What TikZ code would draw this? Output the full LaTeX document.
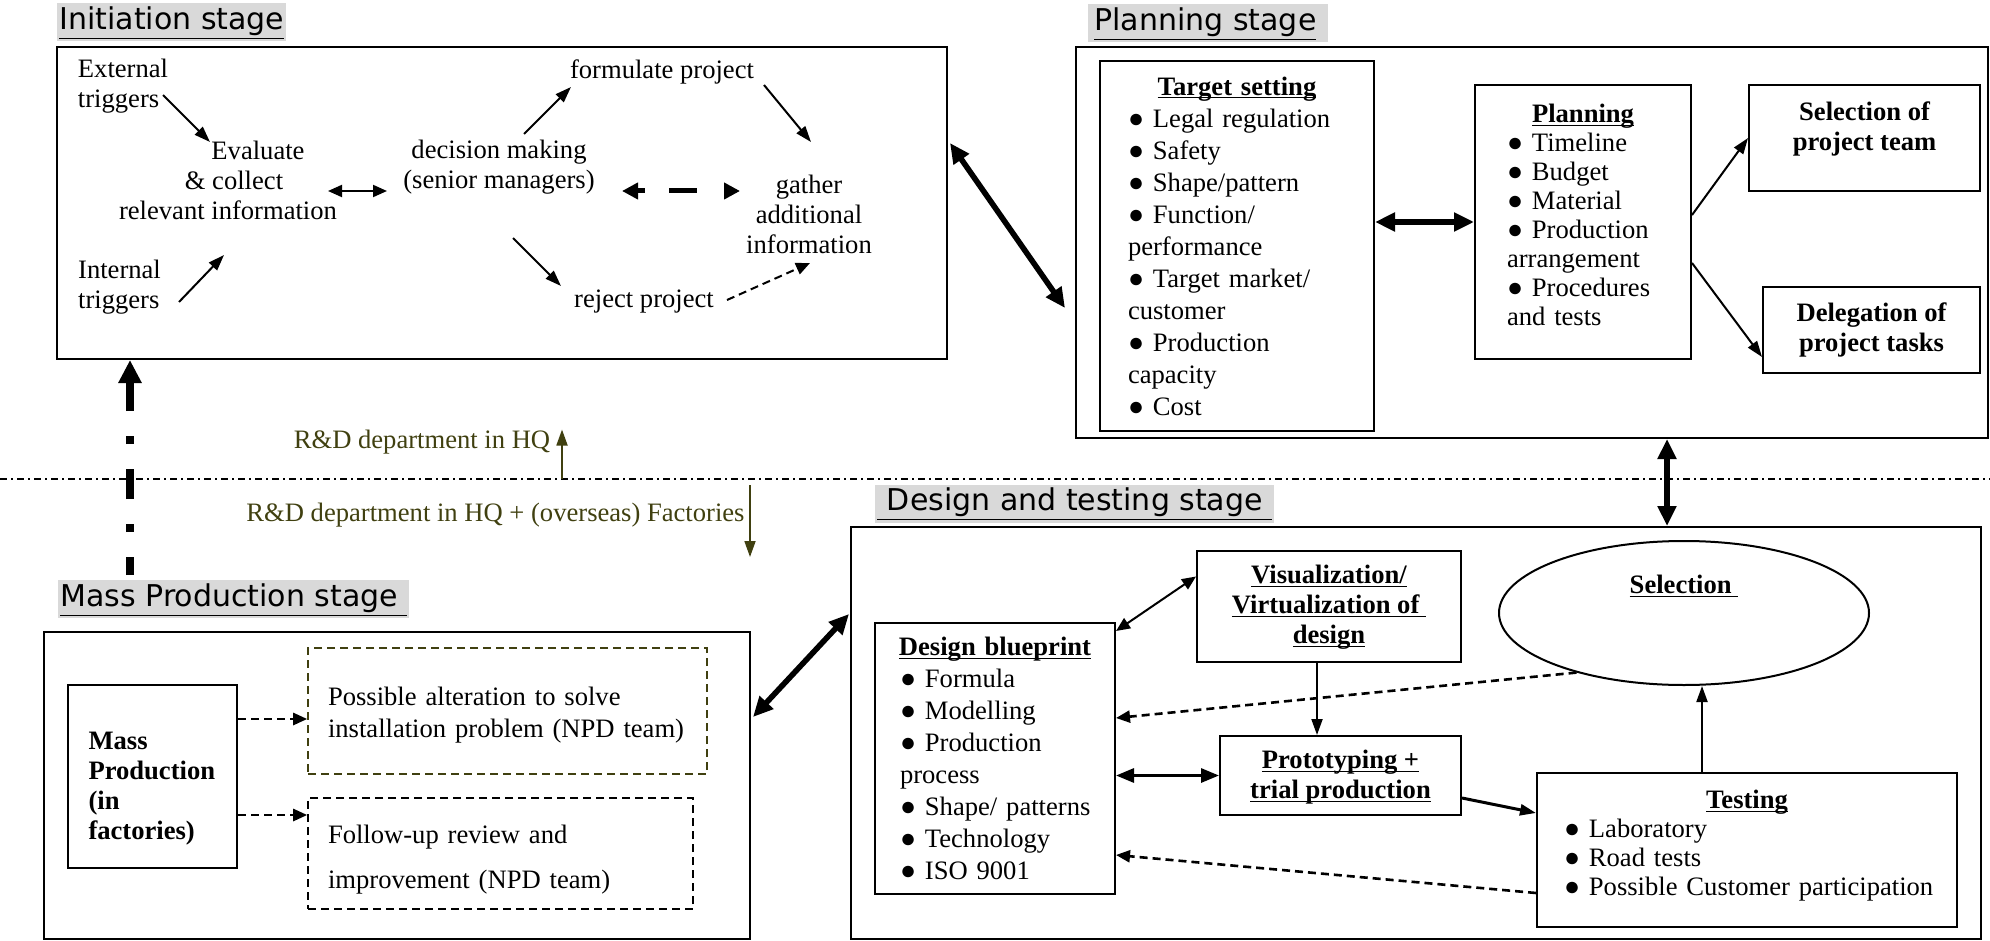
\documentclass[tikz,border=0pt]{standalone}
\usepackage{fontspec}
\setmainfont{Liberation Serif}
\newfontfamily\stagefont{DejaVu Sans}
\usetikzlibrary{arrows.meta,calc,shapes.geometric}
\setlength{\parindent}{0pt}
\hyphenpenalty=10000
\exhyphenpenalty=10000
\definecolor{rdolive}{RGB}{64,64,16}
\newcommand{\bodysize}{\fontsize{13.3}{15}\selectfont}
\newcommand{\listsize}{\fontsize{13.3}{16}\selectfont}
\newcommand{\ulin}[1]{\underline{\raisebox{0pt}[\height][0pt]{#1}}}
\newcommand{\boxhead}[1]{\makebox[\hsize]{\textbf{\ulin{#1}}}}

\tikzset{
  every node/.style={font=\bodysize},
  stagetitle/.style={anchor=west, fill=black!15, inner xsep=1pt, inner ysep=1pt,
    text height=12pt, text depth=5pt, font=\stagefont\fontsize{15}{17}\selectfont},
  stagebox/.style={draw, line width=1pt, inner sep=0pt},
  itembox/.style={draw, line width=1pt, align=left, inner sep=0pt},
  boldbox/.style={draw, line width=1pt, align=center, inner sep=0pt, font=\bodysize\bfseries},
  dashbox/.style={draw, dash pattern=on 4pt off 2.5pt, line width=0.8pt, align=left, inner sep=0pt},
  txt/.style={inner sep=0pt},
  flow/.style={-{Triangle[length=8pt,width=5.5pt]}, line width=1pt},
  flowboth/.style={{Triangle[length=7pt,width=6pt]}-{Triangle[length=7pt,width=6pt]}, line width=1pt},
  midboth/.style={{Triangle[length=9pt,width=7pt]}-{Triangle[length=9pt,width=7pt]}, line width=1.5pt},
  bigflow/.style={{Triangle[length=10pt,width=9pt]}-{Triangle[length=10pt,width=9pt]}, line width=2.8pt},
  bigdash/.style={{Triangle[length=8pt,width=8pt]}-{Triangle[length=8pt,width=8pt]}, line width=2.5pt,
    dash pattern=on 4pt off 12pt on 14pt off 20pt},
  dasharrow/.style={-{Triangle[length=7pt,width=6pt]}, dash pattern=on 4pt off 2.5pt, line width=1.3pt},
  divider/.style={line width=0.9pt, dash pattern=on 3.5pt off 2pt on 1pt off 2pt},
  rdarrow/.style={-{Triangle[length=8pt,width=5.5pt]}, draw=rdolive, line width=0.9pt},
  mpline/.style={-{Triangle[length=11.5pt,width=11pt]}, line width=4pt,
    dash pattern=on 15pt off 12.5pt on 4pt off 12.5pt, dash phase=6pt},
}

\begin{document}
\begin{tikzpicture}[x=0.5pt,y=-0.5pt]
  \useasboundingbox (0,0) rectangle (1990,941);

  % initiation
  \node[stagetitle] (inittitle) at (57,22.5) {\underline{Initiation stage}};
  \node[stagebox, minimum width=445pt, minimum height=156pt] (init) at (502,203) {};
  \node[txt, align=left] (ext) at (123,86) {External\\triggers};
  \node[txt, align=center] (eval) at (228,180) {\hspace*{30pt}Evaluate\\\hspace*{6pt}\& collect\\relevant information};
  \node[txt, align=center] (dec) at (499,167) {decision making\\(senior managers)};
  \node[txt] (form) at (662,72) {formulate project};
  \node[txt, align=center] (gath) at (809,214) {gather\\additional\\information};
  \node[txt] (rej) at (644,302) {reject project};
  \node[txt, align=left] (int) at (119.5,287.5) {Internal\\triggers};

  \draw[flow] ($(ext)+(40,9)$) -- ($(eval)+(-18,-38)$);
  \draw[flow] ($(int)+(59.5,14.5)$) -- ($(eval)+(-4,75)$);
  \draw[flowboth] ($(eval)+(100,11)$) -- ($(dec)+(-112,24)$);
  \draw[flow] ($(dec)+(25,-33)$) -- ($(form)+(-91,15)$);
  \draw[flow] ($(form)+(102,13)$) -- ($(gath)+(2,-72)$);
  \draw[bigdash] ($(dec)+(123,24)$) -- ($(gath)+(-69,-23)$);
  \draw[flow] ($(dec)+(14,71)$) -- ($(rej)+(-83,-16)$);
  \draw[dasharrow, line width=1pt] ($(rej)+(83,-2)$) -- ($(gath)+(1,49)$);

  % planning
  \node[stagetitle] (plantitle) at (1088,23.5) {\hspace*{2pt}\underline{Planning stage}\hspace*{5pt}};
  \node[stagebox, minimum width=456pt, minimum height=195.5pt] (planbox) at (1532,242.5) {};
  \node[itembox, text width=109pt, minimum width=137pt, minimum height=185pt, font=\listsize] (target) at (1237,246)
    {\boxhead{Target setting}\\● Legal regulation\\● Safety\\● Shape/pattern\\● Function/\\performance\\● Target market/\\customer\\● Production\\capacity\\● Cost};
  \node[itembox, text width=76pt, minimum width=108pt, minimum height=137pt, font=\fontsize{13.3}{14.5}\selectfont] (plan) at (1583,222)
    {\boxhead{Planning}\\● Timeline\\● Budget\\● Material\\● Production\\arrangement\\● Procedures\\and tests\\[-6.9pt]\mbox{}};
  \node[boldbox, minimum width=115.5pt, minimum height=53pt] (team) at (1864.5,138) {Selection of\\project team\\[-3pt]\mbox{}};
  \node[boldbox, minimum width=108.5pt, minimum height=43pt] (tasks) at (1871.5,330) {Delegation of\\project tasks};

  \draw[bigflow] ($(init)+(448,-60)$) -- ($(planbox)+(-467,65.5)$);
  \draw[bigflow] (target.east |- plan.west) -- (plan.west);
  \draw[flow] ($(plan.east)+(0,-7)$) -- (team.west);
  \draw[flow] ($(plan.east)+(0,41)$) -- ($(tasks.west)+(0,27)$);

  % HQ / factories divide
  \coordinate (divl) at (0,479);
  \coordinate (divr) at (1990,479);
  \draw[divider] (divl) -- (divr);
  \node[txt, text=rdolive] (hq) at (422,442) {R\&D department in HQ};
  \node[txt, text=rdolive] (fac) at (495.5,515) {R\&D department in HQ + (overseas) Factories};
  \coordinate (hqup) at (562,479);
  \draw[rdarrow] (hqup) -- (hqup |- hq.north);
  \coordinate (facdn) at (750,485);
  \coordinate (facend) at (750,557);
  \draw[rdarrow] (facdn) -- (facend);

  % mass production
  \node[stagetitle] (masstitle) at (58,599) {\underline{Mass Production stage\ }};
  \node[stagebox, minimum width=353pt, minimum height=153.5pt] (massbox) at (397,785.5) {};
  \node[itembox, text width=64pt, minimum width=84.5pt, minimum height=91.5pt, font=\bodysize\bfseries] (mp) at (152.5,776.5)
    {\mbox{}\\[5.4pt]Mass\\Production\\(in\\factories)};
  \node[dashbox, draw=rdolive, text width=179.5pt, minimum width=199.5pt, minimum height=63pt, font=\fontsize{13.3}{15.8}\selectfont] (alt) at (507.5,711)
    {\mbox{}\\[-2.4pt]Possible alteration to solve\\installation problem (NPD team)};
  \node[dashbox, text width=172.5pt, minimum width=192.5pt, minimum height=55.5pt] (rev) at (500.5,853.5)
    {\mbox{}\\[0.3pt]Follow-up review and\\[7.8pt]improvement (NPD team)};
  \draw[dasharrow] ($(mp.east)+(0,-57.5)$) -- ($(alt.west)+(0,8)$);
  \draw[dasharrow] ($(mp.east)+(0,38.5)$) -- ($(rev.west)+(0,-38.5)$);

  \coordinate (mpfoot) at (130,575);
  \draw[mpline] (mpfoot) -- (mpfoot |- init.south);

  % design and testing
  \node[stagetitle] (destitle) at (875,503.5) {\underline{\ Design and testing stage\ }};
  \node[stagebox, minimum width=565pt, minimum height=206pt] (design) at (1416,733) {};
  \node[itembox, text width=95pt, minimum width=120pt, minimum height=135.5pt, font=\listsize] (bp) at (995,758.5)
    {\boxhead{Design blueprint}\\● Formula\\● Modelling\\● Production\\process\\\mbox{● Shape/ patterns}\\● Technology\\● ISO~9001};
  \node[boldbox, minimum width=132pt, minimum height=55.5pt] (vis) at (1329,606.5)
    {\mbox{}\\[-5.8pt]\ulin{Visualization/}\\\ulin{Virtualization of\ }\\\ulin{design}};
  \node[draw, ellipse, line width=1pt, minimum width=185pt, minimum height=72pt,
    label={[anchor=north, yshift=-14pt]north:\textbf{\ulin{Selection\ }}}] (sel) at (1684,613) {};
  \node[boldbox, minimum width=120.5pt, minimum height=39.5pt] (proto) at (1340.5,775.5)
    {\mbox{}\\[-5.2pt]\ulin{Prototyping +}\\\ulin{trial production}};
  \node[itembox, text width=183pt, minimum width=210pt, minimum height=77pt, font=\fontsize{13.3}{14.5}\selectfont] (test) at (1747,850)
    {\boxhead{Testing}\\● Laboratory\\● Road tests\\\mbox{● Possible Customer participation}\\[-7.2pt]\mbox{}};

  \coordinate (pdtop) at ($(planbox.south)+(135,0)$);
  \draw[bigflow] (pdtop) -- (pdtop |- design.north);
  \draw[bigflow] ($(massbox.east)+(2,-68.5)$) -- ($(design.west)+(-1,-119)$);
  \draw[flowboth] ($(bp.north east)+(0,9)$) -- ($(vis.west)+(0,-30)$);
  \coordinate (visfoot) at ($(vis.south)+(-12,0)$);
  \draw[flow] (visfoot) -- (visfoot |- proto.north);
  \draw[midboth] (bp.east |- proto.west) -- (proto.west);
  \draw[flow, line width=1.5pt] ($(proto.east)+(0,22.5)$) -- ($(test.west)+(0,-37)$);
  \coordinate (testtop) at ($(test.north)+(-45,0)$);
  \draw[flow] (testtop) -- (testtop |- sel.south);
  \draw[dasharrow] (sel.209) -- ($(bp.east)+(0,-40.5)$);
  \draw[dasharrow] ($(test.west)+(0,43)$) -- ($(bp.east)+(0,96.5)$);
\end{tikzpicture}
\end{document}
